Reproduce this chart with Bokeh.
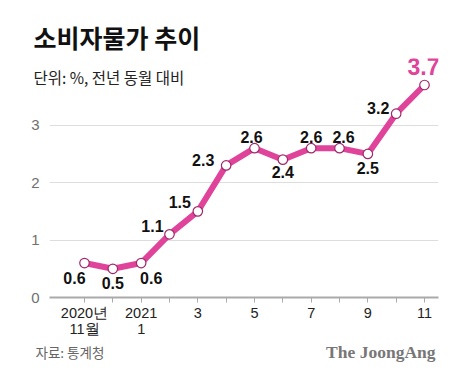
from bokeh.plotting import figure
from bokeh.models import FixedTicker, Label, ColumnDataSource
from bokeh.core.properties import value
from bokeh.embed import file_html
from bokeh.resources import INLINE

# ---- data ----
months = list(range(13))  # 2020-11 ... 2021-11
cpi = [0.6, 0.5, 0.6, 1.1, 1.5, 2.3, 2.6, 2.4, 2.6, 2.6, 2.5, 3.2, 3.7]
tick_labels = {0: "2020년\n11월", 2: "2021\n1", 4: "3", 6: "5", 8: "7", 10: "9", 12: "11"}
y_ticks = [0, 1, 2, 3]
title_text = "소비자물가 추이"
subtitle_text = "단위: %, 전년 동월 대비"
source_text = "자료: 통계청"
brand_text = "The JoongAng"

# ---- styling / label placement (screen px offsets) ----
x_off = [-10, 0, 10, -17, -18, -23, -3, 0, 0, 4, 0, -18]
y_off = [15, 14, 15, -8, -9, -5, -11, 12, -11, -11, 14, -6]
PINK = "#E0449A"
KR = "Noto Sans CJK KR"
NUM = "Liberation Sans"

W, H = 457, 380
FL, FR, FT, FB = 49, 438, 57, 297
PX_PER_UNIT = 57.67
X0, X1 = -1.235, 12.494
Y0 = 0.0
Y1 = (FB - FT) / PX_PER_UNIT

p = figure(width=W, height=H, output_backend="svg", toolbar_location=None,
           x_range=(X0, X1), y_range=(Y0, Y1),
           min_border_left=FL, min_border_right=W - FR, min_border_top=FT,
           min_border_bottom=H - FB)
p.title.visible = False
p.outline_line_color = None
p.background_fill_color = "white"
p.border_fill_color = "white"

# grid
p.xgrid.grid_line_color = None
p.ygrid.ticker = FixedTicker(ticks=[1, 2, 3])
p.ygrid.grid_line_color = "#dddddd"
p.ygrid.grid_line_width = 1

# y axis
yax = p.yaxis[0]
yax.ticker = FixedTicker(ticks=y_ticks)
yax.axis_line_color = None
yax.major_tick_line_color = None
yax.minor_tick_line_color = None
yax.major_label_text_color = "#707070"
yax.major_label_text_font = NUM
yax.major_label_text_font_size = "15px"
yax.major_label_standoff = 4

# x axis
xax = p.xaxis[0]
xax.ticker = FixedTicker(ticks=months)
xax.major_label_overrides = {m: tick_labels.get(m, "") for m in months}
xax.axis_line_color = "#aaaaaa"
xax.axis_line_width = 2
xax.major_tick_line_color = "#aaaaaa"
xax.major_tick_out = 5
xax.major_tick_in = 0
xax.minor_tick_line_color = None
xax.major_label_text_color = "#222222"
xax.major_label_text_font = NUM
xax.major_label_text_font_size = "14.5px"
xax.major_label_text_line_height = 1.0
xax.major_label_standoff = 2

src = ColumnDataSource(dict(x=months, y=cpi))
p.line("x", "y", source=src, line_color=PINK, line_width=6, line_join="round")
p.scatter("x", "y", source=src, size=9.5, fill_color="white", line_color="#A0286A",
          line_width=1.2)

lab_src = ColumnDataSource(dict(x=months[:-1], y=cpi[:-1],
                                label=[f"{v:.1f}" for v in cpi[:-1]],
                                xo=x_off, yo=y_off))
p.text("x", "y", text="label", source=lab_src, x_offset="xo", y_offset="yo",
       text_align="center", text_baseline="middle", text_font=value(NUM),
       text_font_style="bold", text_font_size="16px", text_color="#111111")
p.text([months[-1]], [cpi[-1]], text=[f"{cpi[-1]:.1f}"], x_offset=-1, y_offset=-19,
       text_align="center", text_baseline="middle", text_font=value(NUM),
       text_font_style="bold", text_font_size="23px", text_color=PINK)

# titles & footer: labels in side panels, placed with the plot's own scales
def px_to_data(xp, yp):
    return (X0 + (xp - FL) * (X1 - X0) / (FR - FL),
            Y0 + (FB - yp) * (Y1 - Y0) / (FB - FT))

def lab(xp, yp, **kw):
    x, y = px_to_data(xp, yp)
    return Label(x=x, y=y, text_baseline="middle", text_line_height=1.0, **kw)

p.add_layout(lab(33, 35, text=title_text, text_font=KR, text_font_style="bold",
                 text_font_size="25px", text_color="#111111"), "above")
p.add_layout(lab(33, 76, text=subtitle_text, text_font=KR, text_font_size="15.5px",
                 text_color="#222222"), "above")
p.add_layout(lab(35, 352, text=source_text, text_font=KR, text_font_size="13.5px",
                 text_color="#666666"), "below")
p.add_layout(lab(435, 352, text=brand_text, text_font="Liberation Serif",
                 text_font_style="bold", text_font_size="17.5px", text_color="#777777",
                 text_align="right"), "below")

open("out.html", "w").write(file_html(p, INLINE))
